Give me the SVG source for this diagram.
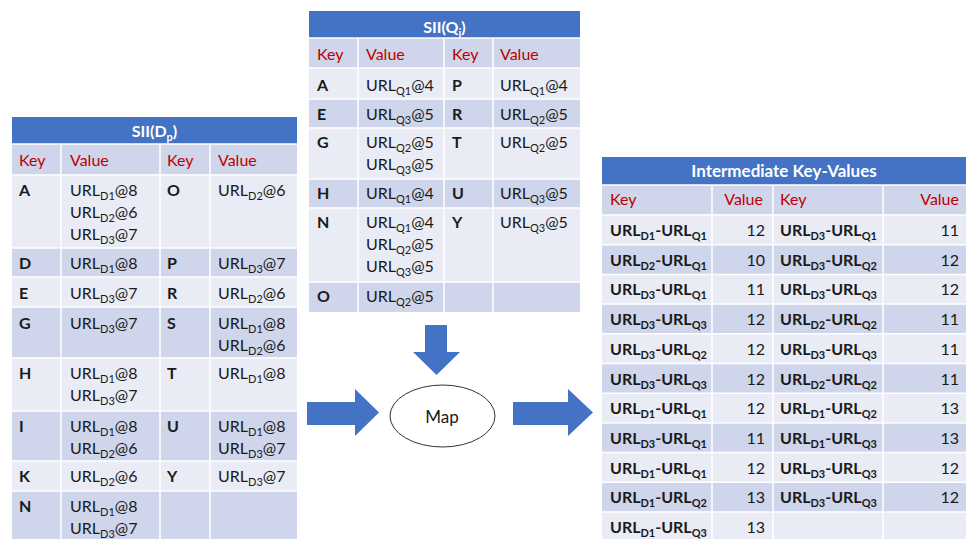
<svg xmlns="http://www.w3.org/2000/svg" width="968" height="539" viewBox="0 0 968 539">
  <style>
    text { font-family: Lato, "Open Sans", "Liberation Sans", sans-serif; font-size: 16px; fill: #1a1a1a; }
    .ttl { fill: #ffffff; font-weight: bold; text-anchor: middle; }
    .big { font-size: 17px; }
    .r { fill: #c00000; }
    .k { font-weight: bold; }
    .e { text-anchor: end; }
    .s { font-size: 11px; }
    .hd { fill: #4472c4; }
    .dk { fill: #cfd5ea; }
    .lt { fill: #e9ebf5; }
    .grid { stroke: #ffffff; stroke-width: 1.5; fill: none; }
    .arrow { fill: #4472c4; }
  </style>

  <!-- SII(Dp) table -->
  <g id="sii-dp">
    <rect class="hd" x="12" y="117" width="285" height="27"/>
    <text class="ttl" x="154.5" y="137">SII(D<tspan class="s" dy="4">p</tspan><tspan dy="-4">)</tspan></text>
    <rect class="dk" x="12" y="144" width="285" height="31"/>
    <rect class="lt" x="12" y="175" width="285" height="73"/>
    <rect class="dk" x="12" y="248" width="285" height="29"/>
    <rect class="lt" x="12" y="277" width="285" height="30"/>
    <rect class="dk" x="12" y="307" width="285" height="51"/>
    <rect class="lt" x="12" y="358" width="285" height="53"/>
    <rect class="dk" x="12" y="411" width="285" height="50"/>
    <rect class="lt" x="12" y="461" width="285" height="30"/>
    <rect class="dk" x="12" y="491" width="285" height="48"/>
    <path class="grid" d="M12 144H297M12 175H297M12 248H297M12 277H297M12 307H297M12 358H297M12 411H297M12 461H297M12 491H297M61 144V539M160 144V539M210 144V539"/>
    <text class="r" x="19" y="166">Key</text>
    <text class="r" x="70" y="166">Value</text>
    <text class="r" x="167" y="166">Key</text>
    <text class="r" x="218" y="166">Value</text>

    <text class="k" x="19" y="196">A</text>
    <text x="70" y="196">URL<tspan class="s" dy="4">D1</tspan><tspan dy="-4">@8</tspan></text>
    <text x="70" y="218">URL<tspan class="s" dy="4">D2</tspan><tspan dy="-4">@6</tspan></text>
    <text x="70" y="240">URL<tspan class="s" dy="4">D3</tspan><tspan dy="-4">@7</tspan></text>
    <text class="k" x="167" y="196">O</text>
    <text x="218" y="196">URL<tspan class="s" dy="4">D2</tspan><tspan dy="-4">@6</tspan></text>

    <text class="k" x="19" y="269">D</text>
    <text x="70" y="269">URL<tspan class="s" dy="4">D1</tspan><tspan dy="-4">@8</tspan></text>
    <text class="k" x="167" y="269">P</text>
    <text x="218" y="269">URL<tspan class="s" dy="4">D3</tspan><tspan dy="-4">@7</tspan></text>

    <text class="k" x="19" y="299">E</text>
    <text x="70" y="299">URL<tspan class="s" dy="4">D3</tspan><tspan dy="-4">@7</tspan></text>
    <text class="k" x="167" y="299">R</text>
    <text x="218" y="299">URL<tspan class="s" dy="4">D2</tspan><tspan dy="-4">@6</tspan></text>

    <text class="k" x="19" y="329">G</text>
    <text x="70" y="329">URL<tspan class="s" dy="4">D3</tspan><tspan dy="-4">@7</tspan></text>
    <text class="k" x="167" y="329">S</text>
    <text x="218" y="329">URL<tspan class="s" dy="4">D1</tspan><tspan dy="-4">@8</tspan></text>
    <text x="218" y="351">URL<tspan class="s" dy="4">D2</tspan><tspan dy="-4">@6</tspan></text>

    <text class="k" x="19" y="379">H</text>
    <text x="70" y="379">URL<tspan class="s" dy="4">D1</tspan><tspan dy="-4">@8</tspan></text>
    <text x="70" y="401">URL<tspan class="s" dy="4">D3</tspan><tspan dy="-4">@7</tspan></text>
    <text class="k" x="167" y="379">T</text>
    <text x="218" y="379">URL<tspan class="s" dy="4">D1</tspan><tspan dy="-4">@8</tspan></text>

    <text class="k" x="19" y="432">I</text>
    <text x="70" y="432">URL<tspan class="s" dy="4">D1</tspan><tspan dy="-4">@8</tspan></text>
    <text x="70" y="454">URL<tspan class="s" dy="4">D2</tspan><tspan dy="-4">@6</tspan></text>
    <text class="k" x="167" y="432">U</text>
    <text x="218" y="432">URL<tspan class="s" dy="4">D1</tspan><tspan dy="-4">@8</tspan></text>
    <text x="218" y="454">URL<tspan class="s" dy="4">D3</tspan><tspan dy="-4">@7</tspan></text>

    <text class="k" x="19" y="482">K</text>
    <text x="70" y="482">URL<tspan class="s" dy="4">D2</tspan><tspan dy="-4">@6</tspan></text>
    <text class="k" x="167" y="482">Y</text>
    <text x="218" y="482">URL<tspan class="s" dy="4">D3</tspan><tspan dy="-4">@7</tspan></text>

    <text class="k" x="19" y="512">N</text>
    <text x="70" y="512">URL<tspan class="s" dy="4">D1</tspan><tspan dy="-4">@8</tspan></text>
    <text x="70" y="534">URL<tspan class="s" dy="4">D3</tspan><tspan dy="-4">@7</tspan></text>
  </g>

  <!-- SII(Qj) table -->
  <g id="sii-qj">
    <rect class="hd" x="309" y="11" width="271" height="27"/>
    <text class="ttl" x="444.5" y="33">SII(Q<tspan class="s" dy="4">j</tspan><tspan dy="-4">)</tspan></text>
    <rect class="dk" x="309" y="38" width="271" height="30"/>
    <rect class="lt" x="309" y="68" width="271" height="31"/>
    <rect class="dk" x="309" y="99" width="271" height="29"/>
    <rect class="lt" x="309" y="128" width="271" height="51"/>
    <rect class="dk" x="309" y="179" width="271" height="29"/>
    <rect class="lt" x="309" y="208" width="271" height="74"/>
    <rect class="dk" x="309" y="282" width="271" height="30"/>
    <path class="grid" d="M309 38H580M309 68H580M309 99H580M309 128H580M309 179H580M309 208H580M309 282H580M358 38V312M444 38V312M493 38V312"/>
    <text class="r" x="317" y="60">Key</text>
    <text class="r" x="366" y="60">Value</text>
    <text class="r" x="452" y="60">Key</text>
    <text class="r" x="500" y="60">Value</text>

    <text class="k" x="317" y="91">A</text>
    <text x="366" y="91">URL<tspan class="s" dy="4">Q1</tspan><tspan dy="-4">@4</tspan></text>
    <text class="k" x="452" y="91">P</text>
    <text x="500" y="91">URL<tspan class="s" dy="4">Q1</tspan><tspan dy="-4">@4</tspan></text>

    <text class="k" x="317" y="120">E</text>
    <text x="366" y="120">URL<tspan class="s" dy="4">Q3</tspan><tspan dy="-4">@5</tspan></text>
    <text class="k" x="452" y="120">R</text>
    <text x="500" y="120">URL<tspan class="s" dy="4">Q2</tspan><tspan dy="-4">@5</tspan></text>

    <text class="k" x="317" y="148">G</text>
    <text x="366" y="148">URL<tspan class="s" dy="4">Q2</tspan><tspan dy="-4">@5</tspan></text>
    <text x="366" y="170">URL<tspan class="s" dy="4">Q3</tspan><tspan dy="-4">@5</tspan></text>
    <text class="k" x="452" y="148">T</text>
    <text x="500" y="148">URL<tspan class="s" dy="4">Q2</tspan><tspan dy="-4">@5</tspan></text>

    <text class="k" x="317" y="199">H</text>
    <text x="366" y="199">URL<tspan class="s" dy="4">Q1</tspan><tspan dy="-4">@4</tspan></text>
    <text class="k" x="452" y="199">U</text>
    <text x="500" y="199">URL<tspan class="s" dy="4">Q3</tspan><tspan dy="-4">@5</tspan></text>

    <text class="k" x="317" y="228">N</text>
    <text x="366" y="228">URL<tspan class="s" dy="4">Q1</tspan><tspan dy="-4">@4</tspan></text>
    <text x="366" y="250">URL<tspan class="s" dy="4">Q2</tspan><tspan dy="-4">@5</tspan></text>
    <text x="366" y="272">URL<tspan class="s" dy="4">Q3</tspan><tspan dy="-4">@5</tspan></text>
    <text class="k" x="452" y="228">Y</text>
    <text x="500" y="228">URL<tspan class="s" dy="4">Q3</tspan><tspan dy="-4">@5</tspan></text>

    <text class="k" x="317" y="302">O</text>
    <text x="366" y="302">URL<tspan class="s" dy="4">Q2</tspan><tspan dy="-4">@5</tspan></text>
  </g>

  <!-- Map step -->
  <g id="map">
    <ellipse cx="442.5" cy="416" rx="52.5" ry="31" fill="#ffffff" stroke="#333333" stroke-width="1"/>
    <text class="big" x="442" y="423" text-anchor="middle">Map</text>
  </g>

  <!-- Intermediate key-value table -->
  <g id="intermediate">
    <rect class="hd" x="602" y="157" width="364" height="28"/>
    <text class="ttl big" x="784" y="177">Intermediate Key-Values</text>
    <rect class="dk" x="602" y="185" width="364" height="30"/>
    <rect class="lt" x="602" y="215" width="364" height="29.7"/>
    <rect class="dk" x="602" y="244.7" width="364" height="29.7"/>
    <rect class="lt" x="602" y="274.4" width="364" height="29.7"/>
    <rect class="dk" x="602" y="304.1" width="364" height="29.7"/>
    <rect class="lt" x="602" y="333.8" width="364" height="29.7"/>
    <rect class="dk" x="602" y="363.5" width="364" height="29.7"/>
    <rect class="lt" x="602" y="393.2" width="364" height="29.7"/>
    <rect class="dk" x="602" y="422.9" width="364" height="29.7"/>
    <rect class="lt" x="602" y="452.6" width="364" height="29.7"/>
    <rect class="dk" x="602" y="482.3" width="364" height="29.7"/>
    <rect class="lt" x="602" y="512" width="364" height="27"/>
    <path class="grid" d="M602 185H966M602 215H966M602 244.7H966M602 274.4H966M602 304.1H966M602 333.8H966M602 363.5H966M602 393.2H966M602 422.9H966M602 452.6H966M602 482.3H966M602 512H966M712 185V539M773 185V539M883 185V539"/>
    <text class="r" x="610" y="205">Key</text>
    <text class="r e" x="763" y="205">Value</text>
    <text class="r" x="780" y="205">Key</text>
    <text class="r e" x="959" y="205">Value</text>

    <text class="k" x="610" y="236">URL<tspan class="s" dy="4">D1</tspan><tspan dy="-4">-URL</tspan><tspan class="s" dy="4">Q1</tspan></text>
    <text class="e" x="765" y="236">12</text>
    <text class="k" x="780" y="236">URL<tspan class="s" dy="4">D3</tspan><tspan dy="-4">-URL</tspan><tspan class="s" dy="4">Q1</tspan></text>
    <text class="e" x="959" y="236">11</text>

    <text class="k" x="610" y="266">URL<tspan class="s" dy="4">D2</tspan><tspan dy="-4">-URL</tspan><tspan class="s" dy="4">Q1</tspan></text>
    <text class="e" x="765" y="266">10</text>
    <text class="k" x="780" y="266">URL<tspan class="s" dy="4">D3</tspan><tspan dy="-4">-URL</tspan><tspan class="s" dy="4">Q2</tspan></text>
    <text class="e" x="959" y="266">12</text>

    <text class="k" x="610" y="295">URL<tspan class="s" dy="4">D3</tspan><tspan dy="-4">-URL</tspan><tspan class="s" dy="4">Q1</tspan></text>
    <text class="e" x="765" y="295">11</text>
    <text class="k" x="780" y="295">URL<tspan class="s" dy="4">D3</tspan><tspan dy="-4">-URL</tspan><tspan class="s" dy="4">Q3</tspan></text>
    <text class="e" x="959" y="295">12</text>

    <text class="k" x="610" y="325">URL<tspan class="s" dy="4">D3</tspan><tspan dy="-4">-URL</tspan><tspan class="s" dy="4">Q3</tspan></text>
    <text class="e" x="765" y="325">12</text>
    <text class="k" x="780" y="325">URL<tspan class="s" dy="4">D2</tspan><tspan dy="-4">-URL</tspan><tspan class="s" dy="4">Q2</tspan></text>
    <text class="e" x="959" y="325">11</text>

    <text class="k" x="610" y="355">URL<tspan class="s" dy="4">D3</tspan><tspan dy="-4">-URL</tspan><tspan class="s" dy="4">Q2</tspan></text>
    <text class="e" x="765" y="355">12</text>
    <text class="k" x="780" y="355">URL<tspan class="s" dy="4">D3</tspan><tspan dy="-4">-URL</tspan><tspan class="s" dy="4">Q3</tspan></text>
    <text class="e" x="959" y="355">11</text>

    <text class="k" x="610" y="385">URL<tspan class="s" dy="4">D3</tspan><tspan dy="-4">-URL</tspan><tspan class="s" dy="4">Q3</tspan></text>
    <text class="e" x="765" y="385">12</text>
    <text class="k" x="780" y="385">URL<tspan class="s" dy="4">D2</tspan><tspan dy="-4">-URL</tspan><tspan class="s" dy="4">Q2</tspan></text>
    <text class="e" x="959" y="385">11</text>

    <text class="k" x="610" y="414">URL<tspan class="s" dy="4">D1</tspan><tspan dy="-4">-URL</tspan><tspan class="s" dy="4">Q1</tspan></text>
    <text class="e" x="765" y="414">12</text>
    <text class="k" x="780" y="414">URL<tspan class="s" dy="4">D1</tspan><tspan dy="-4">-URL</tspan><tspan class="s" dy="4">Q2</tspan></text>
    <text class="e" x="959" y="414">13</text>

    <text class="k" x="610" y="444">URL<tspan class="s" dy="4">D3</tspan><tspan dy="-4">-URL</tspan><tspan class="s" dy="4">Q1</tspan></text>
    <text class="e" x="765" y="444">11</text>
    <text class="k" x="780" y="444">URL<tspan class="s" dy="4">D1</tspan><tspan dy="-4">-URL</tspan><tspan class="s" dy="4">Q3</tspan></text>
    <text class="e" x="959" y="444">13</text>

    <text class="k" x="610" y="474">URL<tspan class="s" dy="4">D1</tspan><tspan dy="-4">-URL</tspan><tspan class="s" dy="4">Q1</tspan></text>
    <text class="e" x="765" y="474">12</text>
    <text class="k" x="780" y="474">URL<tspan class="s" dy="4">D3</tspan><tspan dy="-4">-URL</tspan><tspan class="s" dy="4">Q3</tspan></text>
    <text class="e" x="959" y="474">12</text>

    <text class="k" x="610" y="503">URL<tspan class="s" dy="4">D1</tspan><tspan dy="-4">-URL</tspan><tspan class="s" dy="4">Q2</tspan></text>
    <text class="e" x="765" y="503">13</text>
    <text class="k" x="780" y="503">URL<tspan class="s" dy="4">D3</tspan><tspan dy="-4">-URL</tspan><tspan class="s" dy="4">Q3</tspan></text>
    <text class="e" x="959" y="503">12</text>

    <text class="k" x="610" y="533">URL<tspan class="s" dy="4">D1</tspan><tspan dy="-4">-URL</tspan><tspan class="s" dy="4">Q3</tspan></text>
    <text class="e" x="765" y="533">13</text>
  </g>

  <!-- block arrows into and out of the map step -->
  <g id="connectors">
    <polygon class="arrow" points="425,325 447,325 447,352 460,352 436.5,375 413,352 425,352"/>
    <polygon class="arrow" points="307,402 355,402 355,389 379,412.5 355,436 355,425 307,425"/>
    <polygon class="arrow" points="513,402 568,402 568,389 593,412.5 568,436 568,425 513,425"/>
  </g>
</svg>
